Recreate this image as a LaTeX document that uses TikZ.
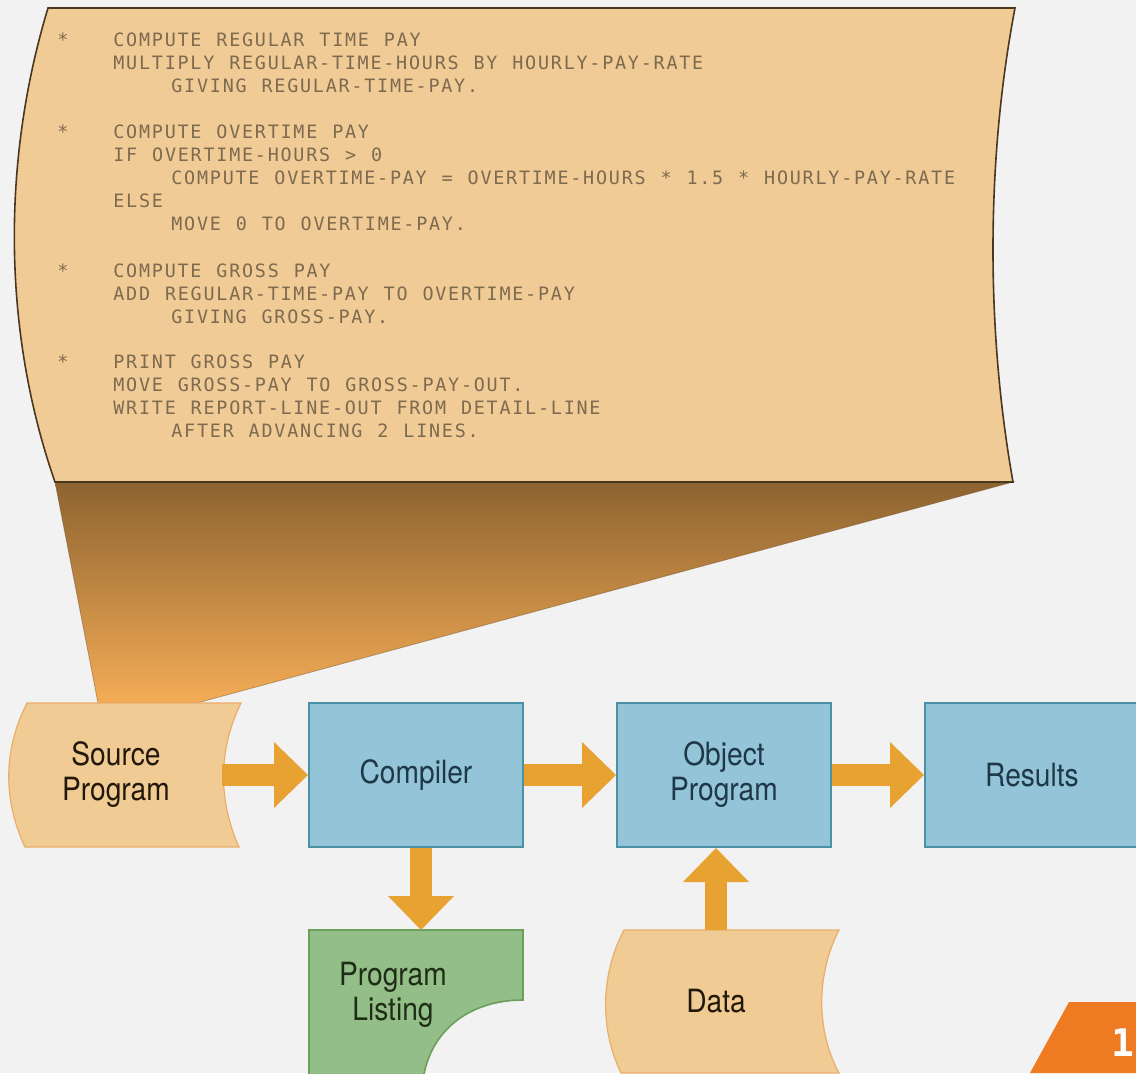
\documentclass[tikz,border=0pt]{standalone}
\usepackage{fontspec}
\usepackage{tikz}
\usetikzlibrary{arrows.meta}
\usetikzlibrary{positioning}
\newfontfamily\boxfont[FakeStretch=0.88]{TeX Gyre Heros}
\newfontfamily\codefont[LetterSpace=9.6,WordSpace=1.16]{DejaVu Sans Mono}
\newfontfamily\tabfont{DejaVu Sans Mono}
\usepackage{xcolor}
\definecolor{bgcol}{HTML}{F2F2F2}
\definecolor{sheetcol}{HTML}{F0CB96}
\definecolor{sheetline}{HTML}{4B3620}
\definecolor{codecol}{HTML}{7D6A4F}
\definecolor{funtop}{HTML}{8D6330}
\definecolor{funbot}{HTML}{F4AC56}
\definecolor{tapecol}{HTML}{F0CB93}
\definecolor{tapeline}{HTML}{E9AE6A}
\definecolor{boxcol}{HTML}{93C4D8}
\definecolor{boxline}{HTML}{4B91A5}
\definecolor{listcol}{HTML}{94BE87}
\definecolor{listline}{HTML}{6C9E5D}
\definecolor{arrowcol}{HTML}{E8A232}
\definecolor{tabcol}{HTML}{EE7B22}
\colorlet{browntext}{black!70!brown!60!black}
\definecolor{slatetext}{HTML}{1F3847}
\definecolor{greentext}{HTML}{1E2D16}
\tikzstyle{codeline}=[anchor=base west,inner sep=0pt,text=codecol,font=\codefont\fontsize{9.2}{11.5}\selectfont]
\tikzstyle{boxtext}=[inner sep=0pt,align=center,font=\boxfont\fontsize{16}{17.5}\selectfont]
\tikzstyle{procbox}=[boxtext,draw=boxline,fill=boxcol,line width=1pt,text=slatetext,minimum width=107pt,minimum height=72pt]
\tikzstyle{tape}=[boxtext,text=browntext,minimum width=106pt,minimum height=72pt]
\tikzstyle{tapeshape}=[fill=tapecol,draw=tapeline,line width=0.6pt]
\tikzstyle{fatarrow}=[draw=arrowcol,line width=11pt,-{Triangle[length=17pt,width=33pt,line width=0pt]}]

\begin{document}
\begin{tikzpicture}[x=0.5pt,y=-0.5pt]
  \fill[bgcol] (0,0) rectangle (1136,1073);
  \useasboundingbox (0,0) rectangle (1136,1073);

  % funnel
  \shade[top color=funtop,bottom color=funbot,draw=funtop!70!black,draw opacity=0.4,line width=0.4pt]
    (55,482) -- (1013,482) -- (197,703) -- (98,703) -- cycle;

  % code sheet
  \filldraw[fill=sheetcol,draw=sheetline,line width=0.8pt]
    (48,8) -- (1015,8) .. controls (986,160) and (986,330) .. (1013,482)
    -- (55,482) .. controls (2,330) and (2,160) .. (48,8) -- cycle;
  \foreach \y [count=\i] in {46,138,277,368}
    \node[codeline] (star\i) at (57,\y) {*};
  \foreach \y/\x/\txt [count=\i] in {
      46/113/{COMPUTE REGULAR TIME PAY},
      69/113/{MULTIPLY REGULAR-TIME-HOURS BY HOURLY-PAY-RATE},
      92/171/{GIVING REGULAR-TIME-PAY.},
      138/113/{COMPUTE OVERTIME PAY},
      161/113/{IF OVERTIME-HOURS > 0},
      184/171/{COMPUTE OVERTIME-PAY = OVERTIME-HOURS * 1.5 * HOURLY-PAY-RATE},
      207/113/{ELSE},
      230/171/{MOVE 0 TO OVERTIME-PAY.},
      277/113/{COMPUTE GROSS PAY},
      300/113/{ADD REGULAR-TIME-PAY TO OVERTIME-PAY},
      323/171/{GIVING GROSS-PAY.},
      368/113/{PRINT GROSS PAY},
      391/113/{MOVE GROSS-PAY TO GROSS-PAY-OUT.},
      414/113/{WRITE REPORT-LINE-OUT FROM DETAIL-LINE},
      437/171/{AFTER ADVANCING 2 LINES.}}
    \node[codeline] (line\i) at (\x,\y) {\txt};

  % shapes
  \path[tapeshape] (27,703) -- (241,703) .. controls (218,750) and (218,800) .. (239,847)
    -- (25,847) .. controls (3,800) and (3,750) .. (27,703) -- cycle;
  \path[tapeshape] (624,930) -- (839,930) .. controls (816,975) and (816,1030) .. (839,1073)
    -- (621,1073) .. controls (600,1030) and (600,975) .. (624,930) -- cycle;
  \filldraw[fill=listcol,draw=listline,line width=0.8pt]
    (309,1080) -- (309,930) -- (523,930) -- (523,1000)
    .. controls (470,1000) and (430,1030) .. (423,1080);

  % nodes
  \node[tape] (src) at (116,775) {Source\\Program};
  \node[procbox] (comp) at (416,775) {Compiler};
  \node[procbox,right=46pt of comp] (obj) {Object\\Program};
  \node[procbox,right=46pt of obj] (res) {Results};
  \node[tape,minimum height=71.5pt] (data) at (716,1001.5) {Data};
  \node[boxtext,text=greentext] (lst) at (393,995) {Program\\Listing};
  \coordinate (lsttop) at (421,930);

  % arrows
  \draw[fatarrow] (src.east) -- (comp.west);
  \draw[fatarrow] (comp.east) -- (obj.west);
  \draw[fatarrow] (obj.east) -- (res.west);
  \draw[fatarrow] (comp.south -| lsttop) -- (lsttop);
  \draw[fatarrow] (data.north) -- (data.north |- obj.south);

  % page tab
  \fill[tabcol] (1069,1002) -- (1136,1002) -- (1136,1073) -- (1030,1073) -- cycle;
  \node[text=white,inner sep=0pt,font=\tabfont\bfseries\fontsize{19}{19}\selectfont] (pg) at (1123,1043) {1};
\end{tikzpicture}
\end{document}
